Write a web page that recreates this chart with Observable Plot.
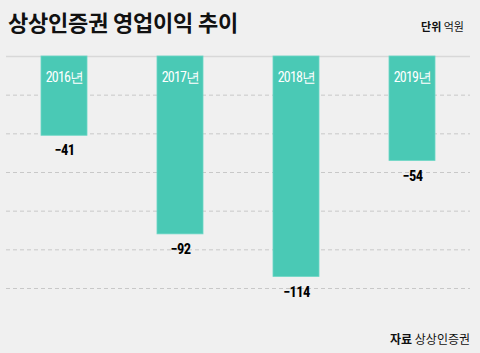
<!DOCTYPE html>
<html><head><meta charset="utf-8">
<script src="https://cdn.jsdelivr.net/npm/d3@7"></script>
<script src="https://cdn.jsdelivr.net/npm/@observablehq/plot@0.6"></script>
<style>
html,body{margin:0;padding:0;background:#f0f0f0;}
#wrap{position:relative;width:480px;height:353px;overflow:hidden;font-family:"Noto Sans CJK KR","Noto Sans",sans-serif;}
#title{position:absolute;left:8px;top:5px;font-size:22px;font-weight:700;color:#111;letter-spacing:-0.2px;}
#unit{position:absolute;right:16px;top:18px;font-size:11px;color:#111;}
#src{position:absolute;right:10px;top:330px;font-size:12px;color:#111;}
b{font-weight:700;}
.yr text{letter-spacing:-0.8px;}
.val text{letter-spacing:-0.6px;}
</style></head>
<body><div id="wrap">
<div id="chart"></div>
<div id="title">상상인증권 영업이익 추이</div>
<div id="unit"><b>단위</b> 억원</div>
<div id="src"><b>자료</b> 상상인증권</div>
</div>
<script>
const years = ["2016년", "2017년", "2018년", "2019년"];
const values = [-41, -92, -114, -54];
const gridTicks = [-20, -40, -60, -80, -100, -120];

const data = years.map((y, i) => ({year: y, value: values[i]}));
const narrow = "'Liberation Sans Narrow','Arial Narrow','Roboto Condensed',sans-serif";

const chart = Plot.plot({
  width: 480,
  height: 353,
  marginTop: 56,
  marginBottom: 65,
  marginLeft: 6,
  marginRight: 10,
  style: {background: "#f0f0f0"},
  x: {domain: years, paddingInner: 0.6, paddingOuter: 0.3, axis: null},
  y: {domain: [-120, 0], axis: null},
  marks: [
    Plot.ruleY(gridTicks, {stroke: "#c8c8c8", strokeDasharray: "4,3", strokeWidth: 1}),
    Plot.ruleY([0], {stroke: "#d8d8d8", strokeWidth: 1.5}),
    Plot.barY(data, {x: "year", y1: 0, y2: "value", fill: "#4ac9b5", stroke: "#6ad6c5", strokeWidth: 0.8}),
    Plot.text(data, {x: "year", y: () => 0, text: "year", dy: 21, fill: "white", fontSize: 14, fontFamily: narrow, className: "yr"}),
    Plot.text(data, {x: "year", y: "value", text: d => "\u2212" + Math.abs(d.value), dy: 15, fill: "#000", fontSize: 14.5, fontWeight: "bold", fontFamily: narrow, className: "val"})
  ]
});
document.getElementById("chart").appendChild(chart);
</script>
</body></html>
